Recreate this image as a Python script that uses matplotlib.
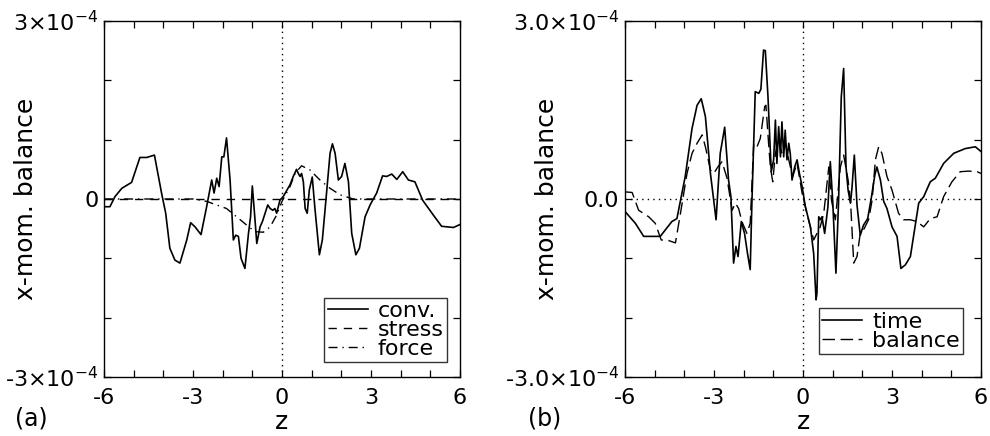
import matplotlib
matplotlib.use("Agg")
import matplotlib.pyplot as plt
from matplotlib.ticker import MultipleLocator, FixedLocator, FixedFormatter

plt.rcParams['font.family'] = ['DejaVu Sans']
plt.rcParams['mathtext.fontset'] = 'dejavusans'
plt.rcParams['mathtext.default'] = 'regular'

SCALE = 1e-4  # values below are in units of 1e-4

# Panel (a)
conv_z = [-6.0, -5.80, -5.63, -5.40, -5.07, -4.79, -4.56, -4.30, -4.06, -3.92, -3.78, -3.61, -3.44,
          -3.21, -3.08, -2.93, -2.73, -2.54, -2.37, -2.29, -2.20, -2.12, -2.03, -1.96, -1.87, -1.75,
          -1.64, -1.56, -1.47, -1.38, -1.25, -1.13, -1.06, -1.00, -0.91, -0.85, -0.74, -0.66, -0.57,
          -0.48, -0.40, -0.31, -0.24, -0.18, -0.07, 0.04, 0.27, 0.38, 0.49, 0.55, 0.61, 0.66, 0.72,
          0.78, 0.85, 0.92, 1.02, 1.11, 1.26, 1.36, 1.48, 1.62, 1.70, 1.79, 1.90, 2.01, 2.12, 2.24,
          2.35, 2.49, 2.61, 2.80, 2.97, 3.19, 3.39, 3.53, 3.70, 3.87, 4.07, 4.26, 4.48, 4.74, 5.10,
          5.38, 5.78, 6.0]
conv_v = [-0.13, -0.13, 0.04, 0.18, 0.28, 0.70, 0.70, 0.74, 0.10, -0.24, -0.83, -1.03, -1.08,
          -0.69, -0.40, -0.47, -0.60, -0.13, 0.32, 0.10, 0.35, 0.21, 0.71, 0.71, 1.03, 0.32,
          -0.69, -0.61, -0.63, -1.00, -1.17, -0.58, -0.30, 0.22, -0.35, -0.75, -0.47, -0.38, -0.24,
          -0.10, -0.16, -0.19, -0.16, -0.24, -0.02, 0.04, 0.24, 0.38, 0.50, 0.43, 0.38, 0.43, 0.29,
          -0.16, -0.24, 0.15, 0.37, -0.16, -0.94, -0.69, -0.02, 0.77, 0.93, 0.77, 0.32, 0.38, 0.60, 0.29,
          -0.58, -0.94, -0.83, -0.30, -0.10, 0.10, 0.39, 0.38, 0.42, 0.33, 0.46, 0.32, 0.29, -0.02, -0.27,
          -0.46, -0.48, -0.43]
stress_z = [-6.0, -3.0, 0.0, 3.0, 6.0]
stress_v = [0.0, 0.0, 0.0, 0.0, 0.0]
force_z = [-6.0, -2.99, -2.54, -1.87, -1.19, -0.91, -0.63, -0.40, -0.18, 0.0, 0.27, 0.44, 0.66,
           0.94, 1.28, 1.62, 1.96, 2.40, 6.0]
force_v = [0.0, 0.0, -0.04, -0.16, -0.44, -0.55, -0.56, -0.47, -0.27, -0.04, 0.21, 0.43, 0.56,
           0.49, 0.32, 0.18, 0.07, 0.0, 0.0]

# Panel (b)
time_z = [-6.0, -5.65, -5.37, -4.81, -4.64, -4.42, -4.25, -3.97, -3.74, -3.57, -3.43, -3.29, -3.12,
          -2.93, -2.79, -2.64, -2.51, -2.43, -2.34, -2.26, -2.19, -2.08, -1.97, -1.87, -1.78, -1.72,
          -1.61, -1.49, -1.42, -1.33, -1.27, -1.18, -1.07, -0.99, -0.93, -0.88, -0.82, -0.76, -0.71,
          -0.65, -0.60, -0.54, -0.48, -0.43, -0.37, -0.28, -0.20, -0.12, -0.03, 0.08, 0.25, 0.36,
          0.44, 0.47, 0.53, 0.58, 0.64, 0.73, 0.84, 0.92, 1.00, 1.11, 1.20, 1.29, 1.37, 1.45, 1.52,
          1.60, 1.65, 1.73, 1.82, 1.93, 2.04, 2.18, 2.30, 2.42, 2.49, 2.61, 2.72, 2.83, 3.00, 3.17,
          3.30, 3.45, 3.62, 3.90, 4.07, 4.29, 4.46, 4.74, 5.08, 5.47, 5.81, 6.0]
time_v = [-0.21, -0.41, -0.63, -0.63, -0.52, -0.38, -0.33, 0.38, 1.19, 1.58, 1.69, 1.39, 0.43,
          -0.35, 0.77, 1.21, 0.32, 0.04, -1.08, -0.80, -0.97, -0.38, -0.58, -0.92, -1.19, -0.02,
          1.81, 1.78, 1.85, 2.51, 2.50, 1.72, 0.46, 0.66, 1.33, 0.60, 1.22, 0.71, 1.30,
          0.71, 1.16, 0.66, 0.94, 0.77, 0.32, 0.54, 0.66, 0.43, 0.21, -0.13, -0.47, -0.92,
          -1.70, -1.59, -0.30, -0.35, -0.30, -0.58, -0.13, 0.63, -0.02, -1.25, -0.02, 1.72, 2.20, 0.54, 0.15,
          -0.07, 0.18, 0.74, -0.10, -0.61, -0.44, -0.33, 0.01, 0.40, 0.54, 0.32, -0.04, -0.16, -0.47, -0.63,
          -1.17, -1.11, -0.97, -0.07, 0.04, 0.29, 0.35, 0.60, 0.77, 0.85, 0.88, 0.80]
bal_z = [-6.0, -5.76, -5.54, -5.20, -4.98, -4.78, -4.53, -4.30, -4.13, -3.91, -3.74, -3.57, -3.40,
         -3.29, -3.12, -3.01, -2.87, -2.73, -2.56, -2.39, -2.28, -2.17, -2.06, -1.89, -1.78, -1.66,
         -1.55, -1.44, -1.29, -1.25, -1.16, -1.10, -1.02, -0.93, -0.82, -0.71, -0.60, -0.48, -0.35,
         -0.20, -0.03, 0.13, 0.36, 0.47, 0.58, 0.70, 0.87, 0.96, 1.09, 1.26, 1.37, 1.52, 1.60, 1.71,
         1.82, 1.93, 2.04, 2.21, 2.33, 2.44, 2.55, 2.66, 2.83, 3.00, 3.22, 3.39, 3.62, 3.84, 4.07,
         4.29, 4.52, 4.74, 5.02, 5.30, 5.58, 5.87, 6.0]
bal_v = [0.12, 0.11, -0.19, -0.30, -0.41, -0.69, -0.70, -0.74, -0.24, 0.43, 0.77, 0.94, 1.08,
         0.88, 0.49, 0.43, 0.54, 0.63, 0.35, -0.19, -0.07, -0.16, -0.38, -0.58, -0.41, 0.94,
         0.88, 1.02, 1.56, 1.58, 0.94, 0.54, 0.29, 0.77, 0.99, 0.77, 0.94, 0.66, 0.38,
         0.60, 0.10, -0.24, -0.69, -0.58, -0.47, -0.24, 0.54, -0.02, -0.35, 0.54, 0.74, 0.32, -0.02, -1.08,
         -0.97, -0.58, -0.52, -0.35, -0.02, 0.66, 0.88, 0.77, 0.38, 0.15, -0.24, -0.35, -0.35, -0.38, -0.47,
         -0.33, -0.30, 0.04, 0.29, 0.46, 0.47, 0.46, 0.43]

xticks = [-6, -3, 0, 3, 6]
xticklabels = ['-6', '-3', '0', '3', '6']
yticks = [-3e-4, 0, 3e-4]
yticklabels_a = [r'-3$\times$10$^{-4}$', '0', r'3$\times$10$^{-4}$']
yticklabels_b = [r'-3.0$\times$10$^{-4}$', '0.0', r'3.0$\times$10$^{-4}$']

FS_TICK = 16
FS_LEG = 16
FS_LAB = 18
fig = plt.figure(figsize=(9.9, 4.36), dpi=100)
ax1 = fig.add_axes([104/990, 1-377/436, 356/990, 356/436])
ax2 = fig.add_axes([625/990, 1-377/436, 356/990, 356/436])

def sc(v):
    return [x * SCALE for x in v]

def style(ax, ylabels):
    ax.set_xlim(-6, 6)
    ax.set_ylim(-3e-4, 3e-4)
    ax.xaxis.set_major_locator(FixedLocator(xticks))
    ax.xaxis.set_major_formatter(FixedFormatter(xticklabels))
    ax.xaxis.set_minor_locator(MultipleLocator(1))
    ax.yaxis.set_major_locator(FixedLocator(yticks))
    ax.yaxis.set_major_formatter(FixedFormatter(ylabels))
    ax.yaxis.set_minor_locator(MultipleLocator(1e-4))
    ax.tick_params(which='both', direction='in', top=True, right=True, labelsize=FS_TICK,
                   width=0.9, length=5)
    ax.tick_params(axis='y', pad=4)
    ax.tick_params(axis='x', pad=8)
    for s in ax.spines.values():
        s.set_linewidth(1.0)
    ax.set_xlabel('z', fontsize=FS_LAB, labelpad=1)
    ax.set_ylabel('x-mom. balance', fontsize=FS_LAB)
    ax.yaxis.set_label_coords(-0.185, 0.5)

style(ax1, yticklabels_a)
ax1.axvline(0, color='black', lw=1, ls=(0, (1, 3)))
ax1.plot(stress_z, sc(stress_v), color='black', lw=1.0, ls=(0, (6, 5)), label='stress', zorder=3)
ax1.plot(force_z, sc(force_v), color='black', lw=1.0, ls=(0, (6.5, 3.5, 1, 3.5)), label='force', zorder=3)
ax1.plot(conv_z, sc(conv_v), color='black', lw=1.2, label='conv.', zorder=4)
h, l = ax1.get_legend_handles_labels()
order = [2, 0, 1]
leg1 = ax1.legend([h[i] for i in order], [l[i] for i in order], loc='lower right',
                  bbox_to_anchor=(0.9635, 0.042), fontsize=FS_LEG, frameon=True, fancybox=False,
                  edgecolor='black', handlelength=1.8, handletextpad=0.45, borderpad=0.15,
                  labelspacing=-0.05, borderaxespad=0)
leg1.get_frame().set_linewidth(1.0)

style(ax2, yticklabels_b)
ax2.axvline(0, color='black', lw=1, ls=(0, (1, 3)))
ax2.axhline(0, color='black', lw=1, ls=(0, (1, 3)))
ax2.plot(time_z, sc(time_v), color='black', lw=1.2, label='time', zorder=4)
ax2.plot(bal_z, sc(bal_v), color='black', lw=1.0, ls=(0, (9, 4)), label='balance', zorder=3)
leg2 = ax2.legend(loc='lower right', bbox_to_anchor=(0.949, 0.065), fontsize=FS_LEG, frameon=True,
                  fancybox=False, edgecolor='black', handlelength=1.8, handletextpad=0.45,
                  borderpad=0.15, labelspacing=-0.05, borderaxespad=0)
leg2.get_frame().set_linewidth(1.0)

fig.text(15/990, 1-418/436, '(a)', fontsize=17, va='center', ha='left')
fig.text(528/990, 1-418/436, '(b)', fontsize=17, va='center', ha='left')

fig.savefig('out.png', dpi=100)
